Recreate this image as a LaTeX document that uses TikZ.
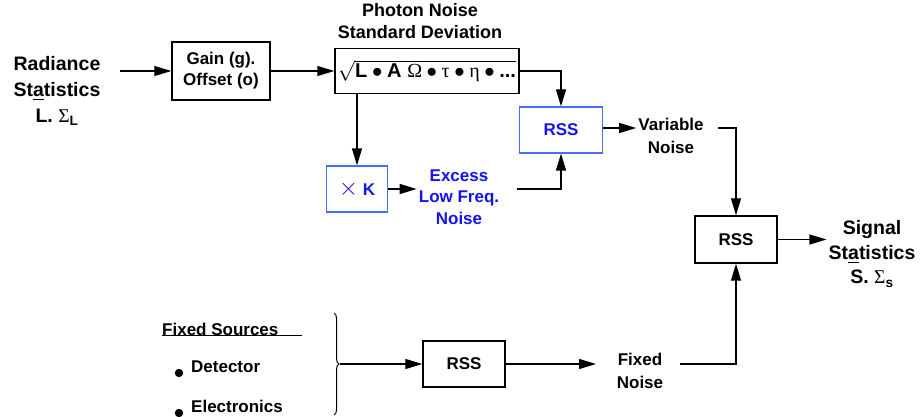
\documentclass[tikz,border=0pt]{standalone}
\usepackage{amsmath}
\usepackage{fontspec}
\setmainfont{Liberation Sans}
\newfontfamily\symfont{Liberation Serif}
\usetikzlibrary{arrows.meta,decorations.pathreplacing}
\definecolor{noiseblue}{RGB}{20,20,240}
\definecolor{frameblue}{RGB}{70,110,255}
\newcommand{\sym}[1]{\text{\symfont\mdseries #1}}
\tikzset{
  block/.style={
    draw,
    rectangle,
    inner sep=0pt,
    line width=1.4pt,
    font=\fontsize{17}{21}\selectfont\bfseries,
    align=center,
  },
  blueblock/.style={
    block,
    draw=frameblue,
    line width=1.2pt,
    text=noiseblue,
  },
  label/.style={
    align=center,
    inner sep=2pt,
    font=\fontsize{17}{23}\selectfont\bfseries,
  },
  biglabel/.style={
    label,
    font=\fontsize{19.5}{26}\selectfont\bfseries,
  },
  arr/.style={line width=1.2pt, -{Triangle[length=17pt,width=10pt]}},
  wire/.style={line width=1.2pt},
}

\begin{document}
\begin{tikzpicture}[x=1pt,y=-1pt]
  \useasboundingbox (0,0) rectangle (923,417);

  % blocks
  \node[block, minimum width=184pt, minimum height=45pt,
        font=\fontsize{20}{24}\selectfont\bfseries] (photon) at (427,71)
    {$\sqrt{\rule{0pt}{13pt}\text{L}\bullet\text{A}\;\sym{Ω}\bullet\sym{τ}\bullet\sym{η}\bullet\text{...}}$};
  \node[block, minimum width=98pt, minimum height=58pt] (gain) at (221,71)
    {Gain (g).\\Offset (o)};
  \node[blueblock, minimum width=83pt, minimum height=46pt] (rssA) at (561,130) {RSS};
  \node[blueblock, minimum width=61pt, minimum height=46pt] (gainK) at (357,189)
    {{\fontsize{23}{23}\selectfont$\times$} K};
  \node[block, minimum width=82pt, minimum height=47pt] (rssB) at (736,239.5) {RSS};
  \node[block, minimum width=82pt, minimum height=46pt] (rssC) at (464,364) {RSS};

  % labels
  \node[biglabel] (radiance) at (57,91)
    {Radiance\\St\underline{a}tistics\\L. $\sym{Σ}_{\text{L}}$};
  \node[label, inner sep=0pt, font=\fontsize{18}{21.5}\selectfont\bfseries] (title) at (420,21)
    {Photon Noise\\Standard Deviation};
  \node[label, text=noiseblue, font=\fontsize{17}{21.5}\selectfont\bfseries] (excess) at (459,197)
    {Excess\\Low Freq.\\Noise};
  \node[label] (variable) at (671,136) {Variable\\Noise};
  \node[biglabel, font=\fontsize{19.5}{24.5}\selectfont\bfseries] (signal) at (872,254)
    {Signal\\St\underline{a}tistics\\S. $\sym{Σ}_{\text{s}}$};
  \node[label] (fixed) at (640,371) {Fixed\\Noise};

  \node[label, anchor=base west, inner sep=0pt] (sources) at (162,335) {Fixed Sources};
  \draw[line width=0.8pt] (sources.base west) -- ++(140,0);
  \foreach \name/\txt/\y in {det/Detector/373, elec/Electronics/413} {
    \fill (179,\y) circle (4.2pt);
    \node[label, anchor=base west, inner sep=0pt] (\name) at (191,\y-1) {\txt};
  }
  \draw[line width=1pt, decorate, decoration={brace, amplitude=5pt}]
    (334,313) -- (334,415);

  \coordinate (radOut) at (120,71);
  \coordinate (braceTip) at (340,364);
  \coordinate (exOut) at (517,189);
  \coordinate (varOut) at (718,128);
  \coordinate (fixIn) at (596,364);
  \coordinate (fixOut) at (680,364);

  % connectors
  \draw[arr] (radOut) -- (gain.west);
  \draw[arr] (gain.east) -- (photon.west);
  \draw[arr] (photon.east) -| (rssA.north);
  \draw[arr] (photon.south -| gainK.north) -- (gainK.north);
  \draw[arr] (gainK.east) -- (gainK.east -| excess.west);
  \draw[arr] (exOut) -| (rssA.south);
  \draw[arr] (rssA.east |- varOut) -- (varOut -| variable.west);
  \draw[arr] (varOut) -| (rssB.north);
  \draw[arr] (rssB.east) -- (rssB.east -| signal.west);
  \draw[arr] (braceTip) -- (rssC.west);
  \draw[arr] (rssC.east) -- (fixIn);
  \draw[arr] (fixOut) -| (rssB.south);
\end{tikzpicture}
\end{document}
